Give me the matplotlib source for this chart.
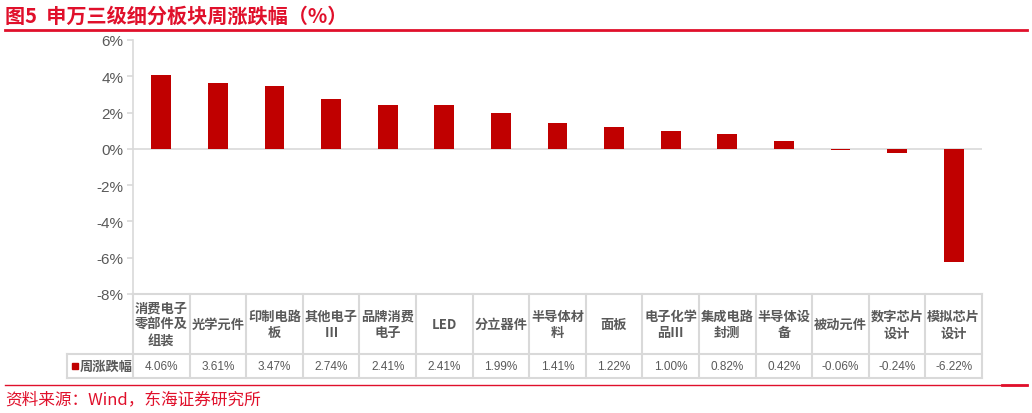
import matplotlib
matplotlib.use('Agg')
from matplotlib import pyplot as plt
from matplotlib.lines import Line2D
from matplotlib.transforms import blended_transform_factory
import numpy as np

# data
categories = ['消费电子零部件及组装', '光学元件', '印制电路板', '其他电子Ⅲ', '品牌消费电子',
              'LED', '分立器件', '半导体材料', '面板', '电子化学品Ⅲ', '集成电路封测',
              '半导体设备', '被动元件', '数字芯片设计', '模拟芯片设计']
weekly_change = [4.06, 3.61, 3.47, 2.74, 2.41, 2.41, 1.99, 1.41, 1.22, 1.00, 0.82, 0.42, -0.06, -0.24, -6.22]
series_name = '周涨跌幅'
y_ticks = [-8, -6, -4, -2, 0, 2, 4, 6]

title = '图5  申万三级细分板块周涨跌幅（%）'
source = '资料来源：Wind，东海证券研究所'

red = '#E0102B'
bar_red = '#C00000'
grey_txt = '#595959'
grey_line = '#D9D9D9'
cjk = ['Noto Sans CJK SC', 'DejaVu Sans']
latin = ['Liberation Sans', 'DejaVu Sans']

W, H = 1032, 414
fig = plt.figure(figsize=(W / 100, H / 100), dpi=100)

# plot area in pixel terms
left, right, top, bottom = 133, 982, 41, 295
ax = fig.add_axes([left / W, 1 - bottom / H, (right - left) / W, (bottom - top) / H])

x = np.arange(len(categories))
ax.axhline(0, color=grey_line, lw=1.2, zorder=1)
ax.bar(x, weekly_change, width=0.35, color=bar_red, zorder=2)

ax.set_xlim(-0.5, len(categories) - 0.5)
ax.set_ylim(-8, 6)
ax.set_yticks(y_ticks)
ax.set_yticklabels([f'{v}%' for v in y_ticks], family=latin, fontsize=11, color=grey_txt)
ax.set_xticks([])
for s in ['top', 'right', 'bottom']:
    ax.spines[s].set_visible(False)
ax.spines['left'].set_color(grey_line)
ax.spines['left'].set_linewidth(1.2)
ax.tick_params(axis='y', color=grey_line, length=4, width=1.2, pad=3)

# data table under the plot
tr = blended_transform_factory(ax.transData, ax.transAxes)
r1 = -(355 - bottom) / (bottom - top)
r2 = -(379 - bottom) / (bottom - top)
col_w = (right - left) / len(categories)
x_leg = -0.5 - (left - 67) / col_w
x_end = len(categories) - 0.5

def tline(xs, ys):
    ax.add_line(Line2D(xs, ys, transform=tr, color=grey_line, lw=1.5, clip_on=False))

tline([-0.5, x_end], [0, 0])
tline([x_leg, x_end], [r1, r1])
tline([x_leg, x_end], [r2, r2])
tline([x_leg, x_leg], [r1, r2])
for b in np.arange(-0.5, len(categories), 1.0):
    tline([b, b], [0, r2])

for i, (name, val) in enumerate(zip(categories, weekly_change)):
    label = '\n'.join(name[k:k + 4] for k in range(0, len(name), 4))
    ax.text(i, r1 / 2, label, transform=tr, ha='center', va='center', fontsize=9.5,
            family=cjk, color=grey_txt, fontweight='bold', linespacing=1.25)
    ax.text(i, (r1 + r2) / 2, f'{val:.2f}%', transform=tr, ha='center', va='center',
            fontsize=8.5, family=latin, color=grey_txt)

# legend key in the table
ax.plot([-0.5 - (left - 75) / col_w], [(r1 + r2) / 2], 's', ms=5, color=bar_red,
        transform=tr, clip_on=False)
ax.text(-0.5 - (left - 80) / col_w, (r1 + r2) / 2, series_name, transform=tr,
        ha='left', va='center', fontsize=9.5, family=cjk, color=grey_txt, fontweight='bold')

# title and source
fig.text(5 / W, 1 - 16 / H, title, family=cjk, fontsize=14.5, fontweight='bold',
         color=red, ha='left', va='center')
fig.add_artist(Line2D([5 / W, 1027 / W], [1 - 31 / H] * 2, color=red, lw=2))
fig.add_artist(Line2D([5 / W, 1027 / W], [1 - 386 / H] * 2, color=red, lw=1))
fig.add_artist(Line2D([1002 / W, 1027 / W], [1 - 386 / H] * 2, color=red, lw=2))
fig.text(5 / W, 1 - 401 / H, source, family=cjk, fontsize=12, color=red,
         ha='left', va='center')

fig.savefig('out.png', dpi=100)
